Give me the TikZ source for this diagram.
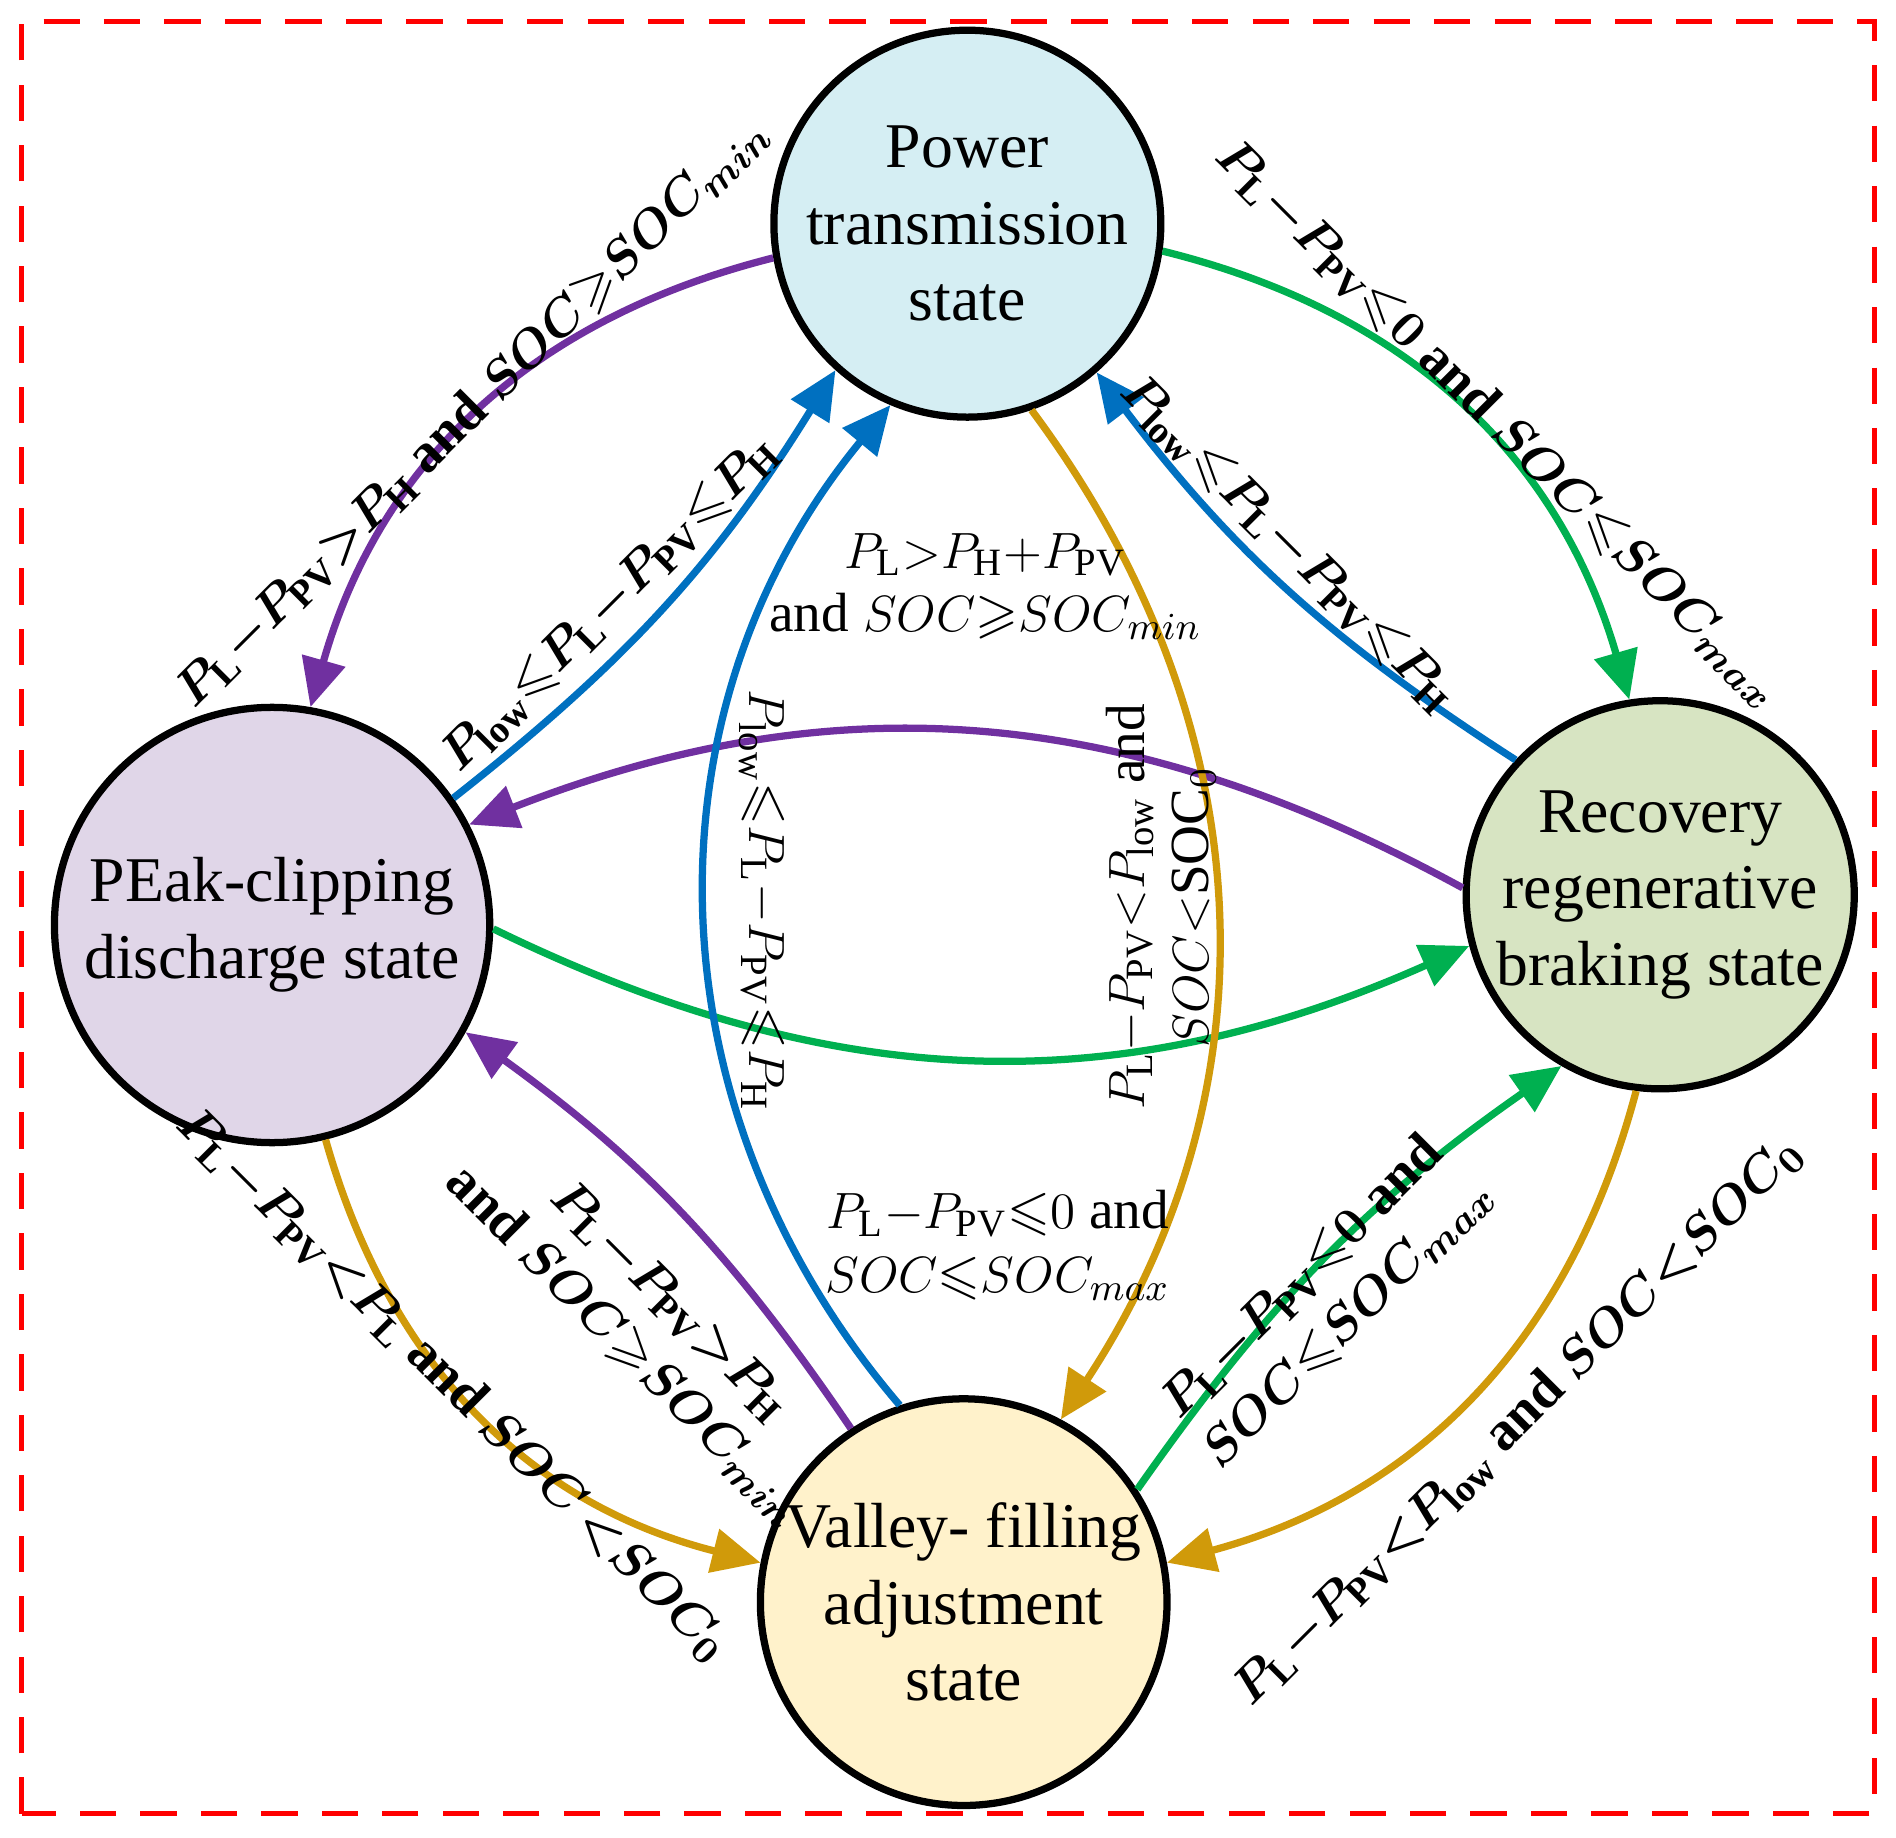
\documentclass[tikz,border=0pt]{standalone}
\usepackage{amssymb}
\usepackage{fontspec}
\setmainfont{Liberation Serif}
\usetikzlibrary{arrows.meta}
\definecolor{tr-purple}{HTML}{7030A0}
\definecolor{tr-green}{HTML}{00B050}
\definecolor{tr-blue}{HTML}{0070C0}
\definecolor{tr-gold}{HTML}{D09A0A}
\definecolor{power-fill}{HTML}{D5EEF3}
\definecolor{peak-fill}{HTML}{E0D6E8}
\definecolor{recovery-fill}{HTML}{D7E4C2}
\definecolor{valley-fill}{HTML}{FFF2CB}
\tikzset{
  state/.style={circle,draw=black,line width=0.6mm,align=center,inner sep=0pt,
    font=\fontsize{15}{18}\selectfont},
  trans/.style={line width=0.6mm,-{Triangle[length=4mm,width=3.6mm]}},
  cond/.style={align=center,inner sep=1pt,font=\fontsize{13}{15}\selectfont\bfseries\boldmath},
  condn/.style={align=center,inner sep=1pt,font=\fontsize{13}{15}\selectfont}
}
\newcommand{\sub}[1]{_{\mathrm{#1}}}
\newcommand{\mi}{\mathord{-}}
\newcommand{\leqs}{\mathord{\leqslant}}
\newcommand{\geqs}{\mathord{\geqslant}}
\begin{document}
\begin{tikzpicture}[x=0.1mm,y=0.1mm]
	\useasboundingbox (0,0) rectangle (1568,1520);
	\draw[red,line width=0.45mm,dash pattern=on 3mm off 2mm] (18,20) rectangle (1550,1502);
	% states
	\node[state,fill=power-fill,minimum size=32mm] (P) at (800,1335) {Power\\transmission\\state};
	\node[state,fill=peak-fill,minimum size=36mm] (E) at (225,755) {PEak-clipping\\discharge state};
	\node[state,fill=recovery-fill,minimum size=31.4mm] (R) at (1373,780) {Recovery\\regenerative\\braking state};
	\node[state,fill=valley-fill,minimum size=31mm] (V) at (797,195) {Valley- filling\\adjustment\\state};
	% transitions
	\draw[trans,tr-purple] (P.190) to[bend right=30] (E.80);
	\draw[trans,tr-green] (P.-8) to[bend left=30] (R.99);
	\draw[trans,tr-blue] (E.35) to[bend right=10] (P.228);
	\draw[trans,tr-blue] (R.137) to[bend left=10] (P.-49);
	\draw[trans,tr-purple] (R.178) to[bend right=25] (E.27);
	\draw[trans,tr-green] (E.-1) to[bend right=25] (R.195);
	\draw[trans,tr-blue] (V.108) to[bend left=40] (P.247);
	\draw[trans,tr-gold] (P.-71) to[bend left=35] (V.62);
	\draw[trans,tr-purple] (V.123) to[bend right=10] (E.-29);
	\draw[trans,tr-gold] (E.-76) to[bend right=30] (V.169);
	\draw[trans,tr-green] (V.33) to[bend left=10] (R.-120);
	\draw[trans,tr-gold] (R.-97) to[bend left=30] (V.11);
	% conditions
	\node[cond,rotate=45] (c1) at (390,1180) {$P\sub{L}\mi P\sub{PV}{>}P\sub{H}$ and $SOC\geqs SOC_{min}$};
	\node[cond,rotate=-45] (c2) at (1240,1170) {$P\sub{L}\mi P\sub{PV}\leqs 0$ and $SOC\leqs SOC_{max}$};
	\node[cond,rotate=45] (c3) at (505,1020) {$P\sub{low}\leqs P\sub{L}\mi P\sub{PV}\leqs P\sub{H}$};
	\node[cond,rotate=-45] (c4) at (1065,1070) {$P\sub{low}\leqs P\sub{L}\mi P\sub{PV}\leqs P\sub{H}$};
	\node[condn] (c5) at (815,1035) {$P\sub{L}{>}P\sub{H}{+}P\sub{PV}$\\and $SOC\geqs SOC_{min}$};
	\node[condn] (c6) at (825,490) {$P\sub{L}\mi P\sub{PV}\leqs 0$ and\\$SOC\leqs SOC_{max}$};
	\node[condn,rotate=-90] (c7) at (630,775) {$P\sub{low}\leqs P\sub{L}\mi P\sub{PV}\leqs P\sub{H}$};
	\node[condn,rotate=90] (c8) at (960,770) {$P\sub{L}\mi P\sub{PV}{<}P\sub{low}$ and\\$SOC{<}\mathrm{SOC}_0$};
	\node[cond,rotate=-45] (c9) at (535,425) {$P\sub{L}\mi P\sub{PV}{>}P\sub{H}$\\and $SOC\geqs SOC_{min}$};
	\node[cond,rotate=-45] (c10) at (375,375) {$P\sub{L}\mi P\sub{PV}{<}P\sub{L}$ and $SOC\,{<}SOC_0$};
	\node[cond,rotate=45] (c11) at (1095,445) {$P\sub{L}\mi P\sub{PV}\leqs 0$ and\\$SOC\leqs SOC_{max}$};
	\node[cond,rotate=45] (c12) at (1255,345) {$P\sub{L}\mi P\sub{PV}{<}P\sub{low}$ and $SOC{<}SOC_0$};
\end{tikzpicture}
\end{document}
